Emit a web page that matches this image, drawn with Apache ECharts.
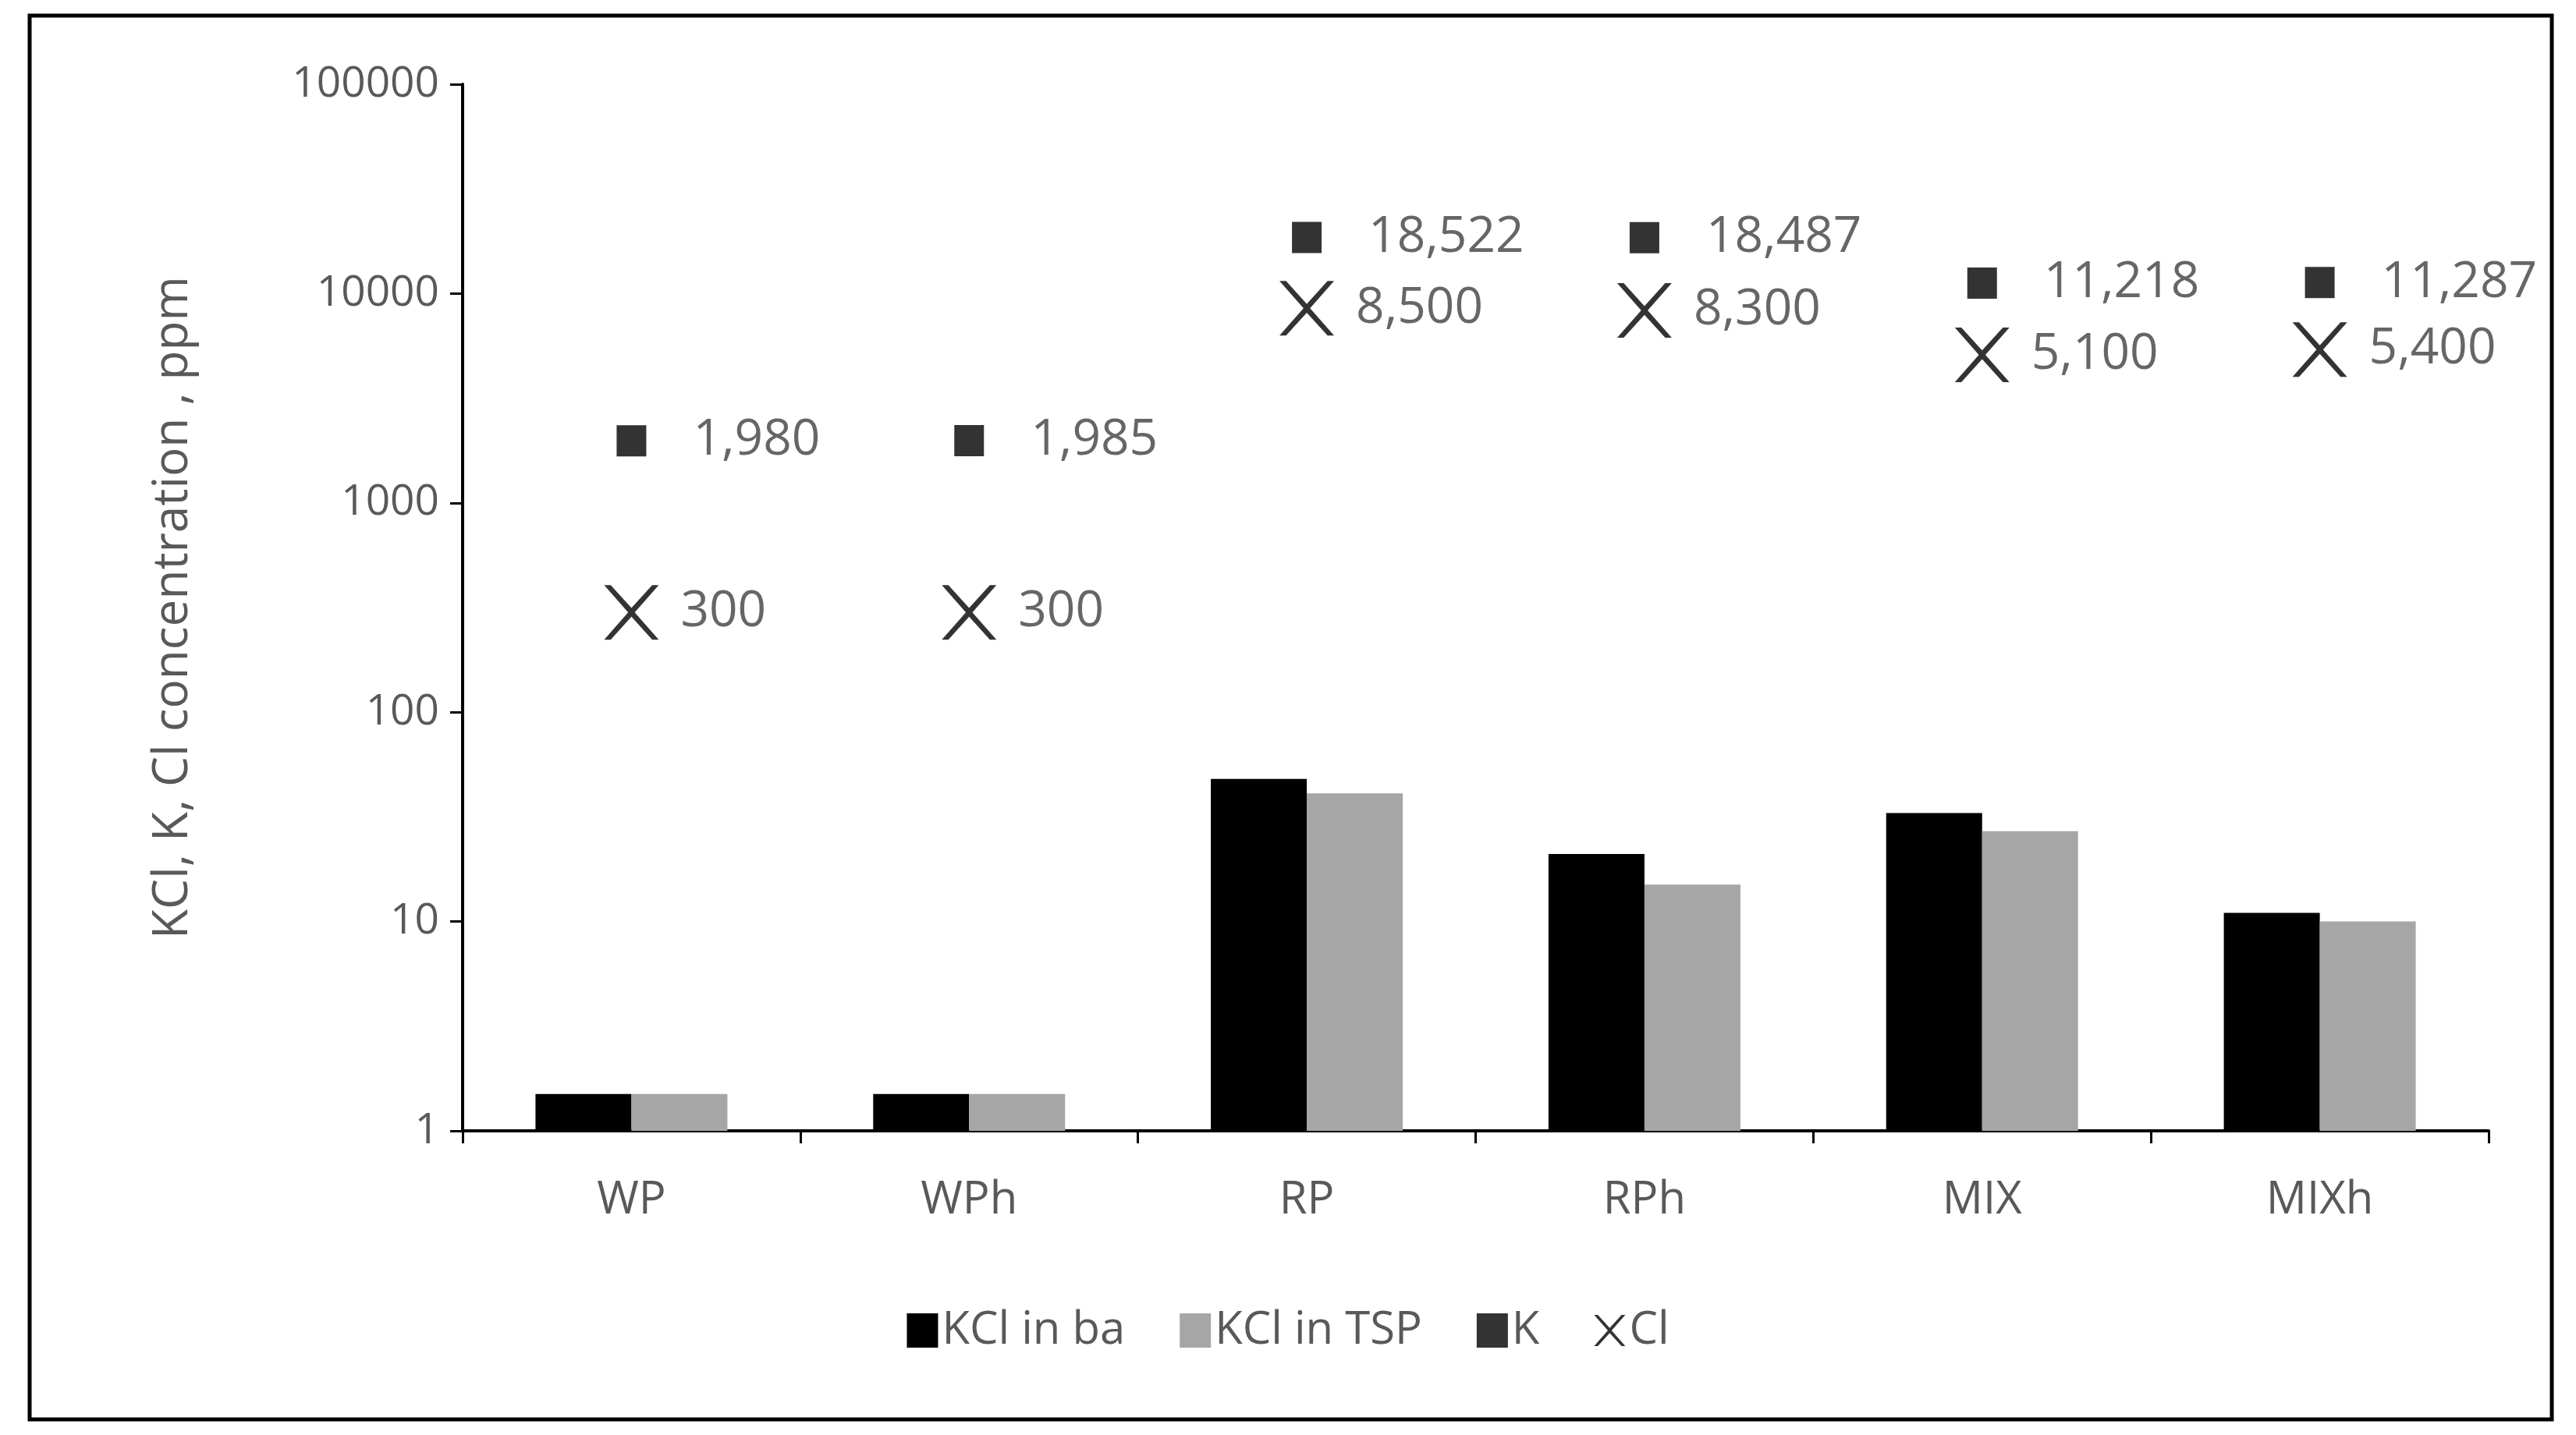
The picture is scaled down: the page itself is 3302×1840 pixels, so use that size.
<!DOCTYPE html>
<html><head><meta charset="utf-8">
<script src="https://cdn.jsdelivr.net/npm/echarts@6/dist/echarts.min.js"></script>
<style>html,body{margin:0;padding:0;background:#fff}#c{width:3302px;height:1840px}</style>
</head><body><div id="c"></div>
<script>
const categories = ['WP','WPh','RP','RPh','MIX','MIXh'];
const kclBa = [1.5,1.5,48,21,33,11];
const kclTsp = [1.5,1.5,41,15,27,10];
const kVals = [1980,1985,18522,18487,11218,11287];
const clVals = [300,300,8500,8300,5100,5400];
const yTicks = [1,10,100,1000,10000,100000];

const crossPath = 'path://M0,0 L12,0 L50,42 L88,0 L100,0 L56,50 L100,100 L88,100 L50,58 L12,100 L0,100 L44,50 Z';
const fmt = v => v.toLocaleString('en-US');
const font = '"Open Sans", "Liberation Sans", sans-serif';
const chart = echarts.init(document.getElementById('c'));
chart.setOption({
  animation:false,
  textStyle:{fontFamily:font},
  graphic:[{type:'rect',shape:{x:38,y:20,width:3233,height:1800},style:{fill:'none',stroke:'#000',lineWidth:5}}],
  grid:{left:593,right:112,top:108,bottom:390},
  legend:{bottom:100,left:'center',itemWidth:40,itemHeight:44,itemGap:70,
    textStyle:{fontSize:58,color:'#595959',fontFamily:font},
    data:[{name:'KCl in ba',icon:'rect'},{name:'KCl in TSP',icon:'rect'},{name:'K',icon:'rect'},{name:'Cl',icon:crossPath}]},
  xAxis:{type:'category',data:categories,
    axisLine:{lineStyle:{color:'#000',width:4}},
    axisTick:{show:true,length:16,lineStyle:{color:'#000',width:3}},
    axisLabel:{fontSize:58,color:'#595959',margin:60}},
  yAxis:{type:'log',logBase:10,min:1,max:100000,
    name:'KCl, K, Cl concentration , ppm',nameLocation:'middle',nameGap:340,
    nameTextStyle:{fontSize:62,color:'#595959'},
    splitLine:{show:false},
    axisLine:{show:true,lineStyle:{color:'#000',width:4}},
    axisTick:{show:true,length:16,lineStyle:{color:'#000',width:3}},
    axisLabel:{fontSize:55,color:'#595959',margin:30,formatter:v=>String(v)}},
  series:[
    {name:'KCl in ba',type:'bar',data:kclBa,barWidth:123,barGap:'0%',itemStyle:{color:'#000'}},
    {name:'KCl in TSP',type:'bar',data:kclTsp,barWidth:123,itemStyle:{color:'#a6a6a6'}},
    {name:'K',type:'scatter',data:kVals,symbol:'rect',symbolSize:[38,40],itemStyle:{color:'#000'},
      label:{show:true,position:'right',distance:60,fontSize:64,color:'#404040',formatter:p=>fmt(p.value)}},
    {name:'Cl',type:'scatter',data:clVals,symbol:crossPath,symbolSize:[70,70],itemStyle:{color:'#000'},
      label:{show:true,position:'right',distance:28,fontSize:64,color:'#404040',formatter:p=>fmt(p.value)}}
  ]
});
</script></body></html>
